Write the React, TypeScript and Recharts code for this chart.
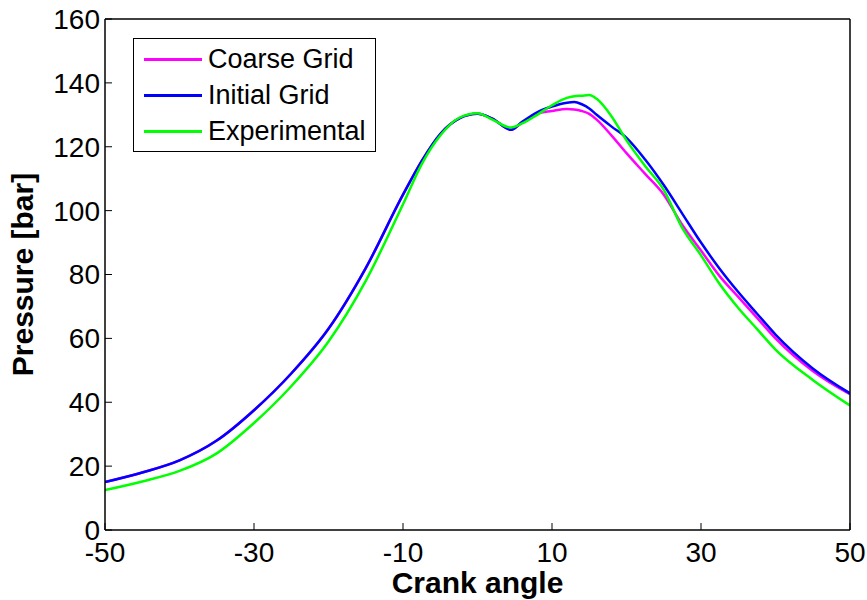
import React from "react";
import { LineChart, Line, XAxis, YAxis } from "recharts";

// crank angle (deg)
const angles = [
  -50, -45, -40, -35, -30, -25, -20, -15, -10, -7.5, -5, -2.5, 0, 2, 4.5, 6, 8,
  10, 12, 13, 14, 15, 16, 18, 20, 22.5, 25, 27.5, 30, 32.5, 35, 37.5, 40, 45, 50,
];

// pressure [bar]
const coarseGrid = [
  15, 18, 21.8, 28, 37.5, 49, 63, 82, 105, 115.5, 124, 128.8, 130.3, 128.8,
  125.3, 127.6, 130.4, 131.2, 131.8, 131.7, 131.2, 130.3, 128.5, 123.5, 118,
  111.5, 105, 95.5, 87.5, 79.5, 73, 66.5, 60, 49.8, 42.5,
];
const initialGrid = [
  15, 18, 21.8, 28, 37.5, 49, 63, 82, 105, 115.5, 124, 128.8, 130.3, 128.8,
  125.3, 127.8, 130.8, 132.6, 133.8, 134, 133.3, 132, 130, 126.3, 122.8,
  116, 108, 99, 90, 81.8, 74.5, 67.8, 61.2, 50.6, 42.8,
];
const experimental = [
  12.5, 15.2, 18.5, 24, 33.5, 45, 59, 78, 102, 114.5, 123.5, 129, 130.5, 128.5,
  126, 127.3, 130, 133, 135.3, 135.8, 136, 136.2, 135, 129.5, 122,
  114, 106.5, 94.5, 86, 77, 69.5, 63, 56.5, 47, 39,
];

const xTicks = [-50, -30, -10, 10, 30, 50];
const yTicks = [0, 20, 40, 60, 80, 100, 120, 140, 160];

// the coarse line is tied to the top/right axes so the box ticks get drawn
const series = [
  { key: "coarse", name: "Coarse Grid", color: "#ff00ff", xId: "top", yId: "right" },
  { key: "initial", name: "Initial Grid", color: "#0000ff", xId: "bottom", yId: "left" },
  { key: "experimental", name: "Experimental", color: "#00ff00", xId: "bottom", yId: "left" },
];

const data = angles.map((angle, i) => ({
  angle,
  coarse: coarseGrid[i],
  initial: initialGrid[i],
  experimental: experimental[i],
}));

const FONT = "'Liberation Sans', Arial, sans-serif";
const tickStyle = { fill: "#000", fontSize: 28, fontFamily: FONT };
const axisLine = { stroke: "#000", strokeWidth: 1.5 };

function LegendBox() {
  return (
    <div
      style={{
        position: "absolute",
        left: 133,
        top: 38,
        border: "1.5px solid #000",
        background: "#fff",
        width: 243,
        height: 114,
        boxSizing: "border-box",
        fontFamily: FONT,
        fontSize: 27,
        color: "#000",
        paddingTop: 2,
      }}>
      {series.map((s) => (
        <div
          key={s.key}
          style={{ display: "flex", alignItems: "center", height: 36 }}>
          <div
            style={{
              marginLeft: 10,
              width: 58,
              height: 3,
              background: s.color,
            }}
          />
          <span style={{ marginLeft: 6, lineHeight: "36px" }}>{s.name}</span>
        </div>
      ))}
    </div>
  );
}

function YTitle(props: any) {
  const vb = props.viewBox;
  const cx = 22;
  const cy = vb.y + vb.height / 2;
  return (
    <text
      x={cx}
      y={cy}
      transform={`rotate(-90 ${cx} ${cy})`}
      textAnchor="middle"
      dominantBaseline="central"
      fontFamily={FONT}
      fontWeight="bold"
      fontSize={30}
      fill="#000">
      Pressure [bar]
    </text>
  );
}

export default function App() {
  return (
    <div
      style={{
        position: "absolute",
        left: 0,
        top: 0,
        width: 867,
        height: 600,
        background: "#fff",
      }}>
      <LineChart
        width={867}
        height={600}
        data={data}
        margin={{ top: 18, right: 16, left: 0, bottom: 0 }}>
        <XAxis
          xAxisId="bottom"
          dataKey="angle"
          type="number"
          domain={[-50, 50]}
          ticks={xTicks}
          allowDataOverflow
          height={70}
          tick={tickStyle}
          tickSize={-7}
          tickMargin={19}
          axisLine={axisLine}
          tickLine={{ stroke: "#000" }}
          label={{
            value: "Crank angle",
            position: "insideBottom",
            offset: 7,
            fill: "#000",
            fontSize: 30,
            fontWeight: "bold",
            fontFamily: FONT,
          }}
        />
        <XAxis
          xAxisId="top"
          orientation="top"
          dataKey="angle"
          type="number"
          domain={[-50, 50]}
          ticks={xTicks}
          allowDataOverflow
          height={1}
          tick={false}
          tickSize={-7}
          axisLine={axisLine}
          tickLine={{ stroke: "#000" }}
        />
        <YAxis
          yAxisId="left"
          type="number"
          domain={[0, 160]}
          ticks={yTicks}
          allowDataOverflow
          width={105}
          tick={tickStyle}
          tickSize={-7}
          tickMargin={12}
          axisLine={axisLine}
          tickLine={{ stroke: "#000" }}
          label={{ content: YTitle }}
        />
        <YAxis
          yAxisId="right"
          orientation="right"
          type="number"
          domain={[0, 160]}
          ticks={yTicks}
          allowDataOverflow
          width={1}
          tick={false}
          tickSize={-7}
          axisLine={axisLine}
          tickLine={{ stroke: "#000" }}
        />
        {series.map((s) => (
          <Line
            key={s.key}
            xAxisId={s.xId}
            yAxisId={s.yId}
            type="monotone"
            dataKey={s.key}
            name={s.name}
            stroke={s.color}
            strokeWidth={2.5}
            dot={false}
            isAnimationActive={false}
          />
        ))}
      </LineChart>
      <LegendBox />
    </div>
  );
}
